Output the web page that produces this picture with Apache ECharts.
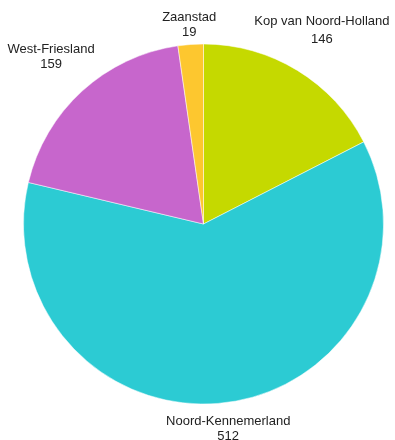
<!DOCTYPE html>
<html lang="nl">
<head>
    <meta charset="UTF-8">
    <title>Regio's</title>
    <script src="https://cdn.jsdelivr.net/npm/echarts@6/dist/echarts.min.js"></script>
    <style>
        html, body { margin: 0; padding: 0; background: #fff; }
        #chart { width: 395px; height: 440px; }
    </style>
</head>
<body>
<div id="chart"></div>
<script>
    // data
    var regions = ["Kop van Noord-Holland", "Noord-Kennemerland", "West-Friesland", "Zaanstad"];
    var counts = [146, 512, 159, 19];
    var colors = ["#c5d900", "#2ccbd3", "#c766cc", "#fdc72f"];
    // afstand van label tot middelpunt, en regelafstand per label
    var labelDist = [227, 206, 226, 200];
    var labelLineH = [18, 15, 15, 15];

    var cx = 203.5, cy = 224;
    var total = counts.reduce(function (a, b) { return a + b; }, 0);
    var midAngle = [];
    var acc = 0;
    for (var i = 0; i < counts.length; i++) {
        midAngle.push((acc + counts[i] / 2) / total * 2 * Math.PI);
        acc += counts[i];
    }

    var chart = echarts.init(document.getElementById("chart"));
    chart.setOption({
        animation: false,
        series: [{
            type: "pie",
            center: [cx, cy],
            radius: 180,
            startAngle: 90,
            clockwise: true,
            data: regions.map(function (n, i) {
                return {
                    name: n, value: counts[i],
                    itemStyle: { color: colors[i] },
                    label: { lineHeight: labelLineH[i] }
                };
            }),
            itemStyle: { borderColor: "#fff", borderWidth: 0.5 },
            label: {
                show: true,
                position: "outside",
                formatter: "{b}\n{c}",
                fontFamily: "Liberation Sans",
                fontSize: 13,
                color: "#222",
                align: "center",
                overflow: "none",
                width: 200
            },
            labelLine: { show: false },
            labelLayout: function (p) {
                var a = midAngle[p.dataIndex];
                var r = labelDist[p.dataIndex];
                return {
                    x: cx + r * Math.sin(a),
                    y: cy - r * Math.cos(a),
                    align: "center",
                    verticalAlign: "middle"
                };
            },
            emphasis: { disabled: true }
        }]
    });
</script>
</body>
</html>
